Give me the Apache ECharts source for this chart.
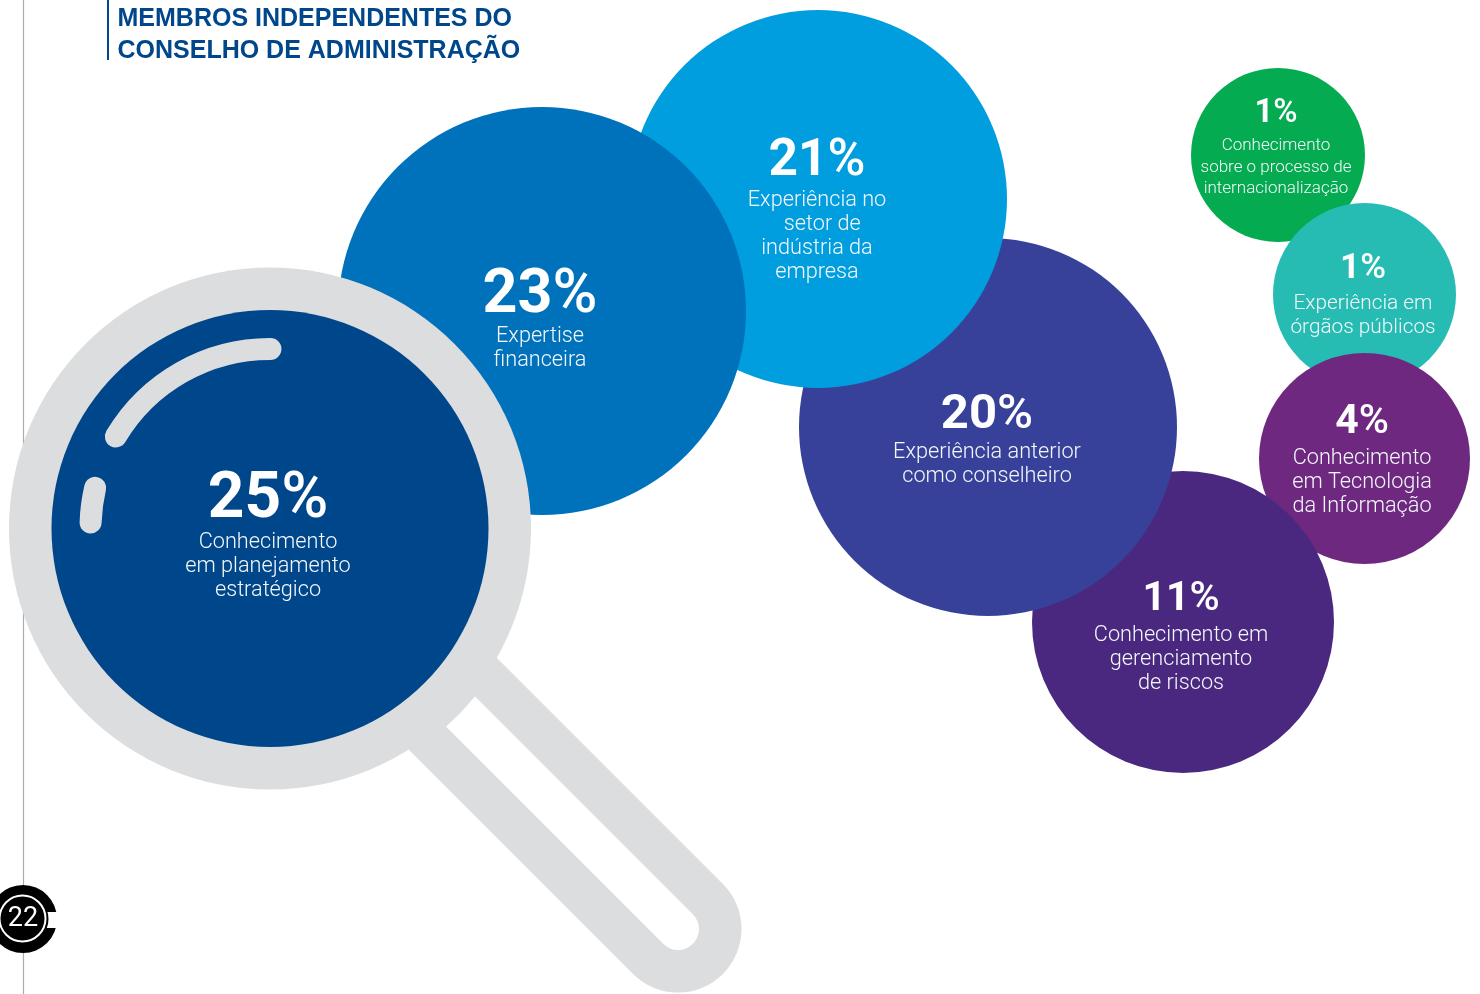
<!DOCTYPE html>
<html lang="pt">
<head>
<meta charset="utf-8">
<title>Membros independentes do Conselho de Administração</title>
<style>html,body{margin:0;padding:0;background:#fff}#chart{width:1480px;height:994px}</style>
<script src="https://cdn.jsdelivr.net/npm/echarts@6/dist/echarts.min.js"></script>
</head>
<body>
<div id="chart"></div>
<script>
// Share of independent board members by area of expertise, in percent
const categories = [
  ['Conhecimento', 'em planejamento', 'estratégico'],
  ['Expertise', 'financeira'],
  ['Experiência no', '\u00a0\u00a0setor de', 'indústria da', 'empresa'],
  ['Experiência anterior', 'como conselheiro'],
  ['Conhecimento em', 'gerenciamento', 'de riscos'],
  ['Conhecimento', 'em Tecnologia', 'da Informação'],
  ['Experiência em', 'órgãos públicos'],
  ['Conhecimento', 'sobre o processo de', 'internacionalização']
];
const values = [25, 23, 21, 20, 11, 4, 1, 1];

// Bubble placement on the page-sized grid: centre x, centre y, radius
const bubbleLayout = [
  [270, 528.5, 218.5], [542, 311, 204], [818, 199, 189], [988, 427, 189],
  [1183, 622, 151], [1364.5, 458.5, 105.5], [1364.5, 294.5, 91.5], [1278, 155, 87]
];
const bubbleColors = ['#00468b', '#0071bb', '#009ede', '#37419a', '#4a287f', '#6e2880', '#27bcb3', '#05ab50'];
// Label placement: text centre x, percent line y, first text line y, percent font, text font, line step
const labelLayout = [
  [268, 501, 543, 64, 21.7, 24], [540, 297, 337, 61, 21.7, 24], [817, 162, 201, 51.5, 21.7, 24],
  [987, 416, 453, 49, 21.7, 24], [1181, 600, 636, 41, 21.7, 24], [1362, 423, 459, 41, 21.7, 24],
  [1363, 269, 304, 35, 20.8, 24], [1276, 114, 146, 33, 17, 21.5]
];

const LIGHT_GREY = '#dcddde';
const LENS = { x: 270, y: 528.5, outer: 261 };
const BODY_FONT = 'Roboto';

function bubbleItem(i) {
  const [cx, cy, r] = bubbleLayout[i];
  const [tx, pctY, firstY, pctSize, textSize, step] = labelLayout[i];
  const lines = categories[i];
  const pctHeight = 2 * (firstY - pctY - step / 2);
  const total = pctHeight + lines.length * step;
  const blockCentre = pctY - pctHeight / 2 + total / 2;
  return {
    value: [cx, cy, values[i]],
    symbolSize: r * 2,
    itemStyle: { color: bubbleColors[i], opacity: 1 },
    label: {
      show: true,
      position: 'inside',
      offset: [tx - cx, blockCentre - cy],
      formatter: '{n|' + values[i] + '}{p|%}\n' + lines.map(l => '{t|' + l + '}').join('\n'),
      rich: {
        n: { fontFamily: BODY_FONT, fontWeight: 700, fontSize: pctSize, lineHeight: pctHeight, color: '#fff' },
        p: { fontFamily: BODY_FONT, fontWeight: 500, fontSize: pctSize, lineHeight: pctHeight, color: '#fff' },
        t: { fontFamily: BODY_FONT, fontWeight: 300, fontSize: textSize, lineHeight: step, color: '#f4f8fb' }
      }
    }
  };
}

// Painter's order: smaller bubbles sit behind the larger ones
const backIndices = [7, 6, 5, 4, 3, 2, 1];

const bubbleSeries = {
  type: 'scatter', silent: true, animation: false, z: 2,
  data: backIndices.map(bubbleItem)
};
const lensRing = {
  type: 'scatter', silent: true, animation: false, z: 3,
  symbolSize: LENS.outer * 2,
  itemStyle: { color: LIGHT_GREY, opacity: 1 },
  data: [[LENS.x, LENS.y, 0]]
};
const lensBubble = {
  type: 'scatter', silent: true, animation: false, z: 4,
  data: [bubbleItem(0)]
};
// Glass reflections painted over the lens
const reflections = {
  type: 'custom', silent: true, animation: false, z: 6,
  coordinateSystem: 'none',
  data: [0],
  renderItem: () => ({
    type: 'group',
    children: [[3.68, 4.715], [3.175, 3.37]].map(([start, end]) => ({
      type: 'arc',
      shape: { cx: LENS.x, cy: LENS.y, r: 179.5, startAngle: start, endAngle: end, clockwise: true },
      style: { fill: null, stroke: LIGHT_GREY, lineWidth: 22, lineCap: 'round' }
    }))
  })
};

const rad = d => d * Math.PI / 180;

const option = {
  backgroundColor: '#fff',
  grid: { left: 0, right: 0, top: 0, bottom: 0 },
  xAxis: { type: 'value', min: 0, max: 1480, show: false },
  yAxis: { type: 'value', min: 0, max: 994, inverse: true, show: false },
  series: [bubbleSeries, lensRing, lensBubble, reflections],
  graphic: { elements: [
    { type: 'line', shape: { x1: 23.5, y1: 0, x2: 23.5, y2: 994 }, style: { stroke: '#a9abad', lineWidth: 1.2 } },
    { type: 'rect', shape: { x: 107, y: 0, width: 2, height: 60 }, style: { fill: '#00468b' } },
    { type: 'text', x: 117.5, y: 3, style: {
        text: 'MEMBROS INDEPENDENTES DO\nCONSELHO DE ADMINISTRAÇÃO',
        font: 'bold 25px "Liberation Sans"', lineHeight: 32, fill: '#00468b' } },
    // Magnifier handle with its open slot
    { type: 'line', shape: { x1: 400, y1: 651, x2: 678, y2: 929 },
      style: { stroke: LIGHT_GREY, lineWidth: 127, lineCap: 'round' } },
    { type: 'line', shape: { x1: 440, y1: 691, x2: 678, y2: 929 },
      style: { stroke: '#fff', lineWidth: 42, lineCap: 'round' } },
    { type: 'sector', shape: { cx: LENS.x, cy: LENS.y, r0: 200, r: 265, startAngle: rad(35), endAngle: rad(53) },
      style: { fill: LIGHT_GREY } },
    // Page number badge
    { type: 'circle', shape: { cx: 23, cy: 919, r: 34 }, style: { fill: '#000' } },
    { type: 'rect', shape: { x: 40, y: 912, width: 20, height: 16 }, style: { fill: '#fff' } },
    { type: 'circle', shape: { cx: 23, cy: 919, r: 25.5 }, style: { fill: '#000' } },
    { type: 'circle', shape: { cx: 22.5, cy: 918.5, r: 23 }, style: { fill: null, stroke: '#fff', lineWidth: 2 } },
    { type: 'text', x: 23, y: 919, style: {
        text: '22', font: '400 27px Roboto', fill: '#fff', align: 'center', verticalAlign: 'middle' } }
  ] }
};

const chart = echarts.init(document.getElementById('chart'), null, { renderer: 'canvas' });
chart.setOption(option);
</script>
</body>
</html>
